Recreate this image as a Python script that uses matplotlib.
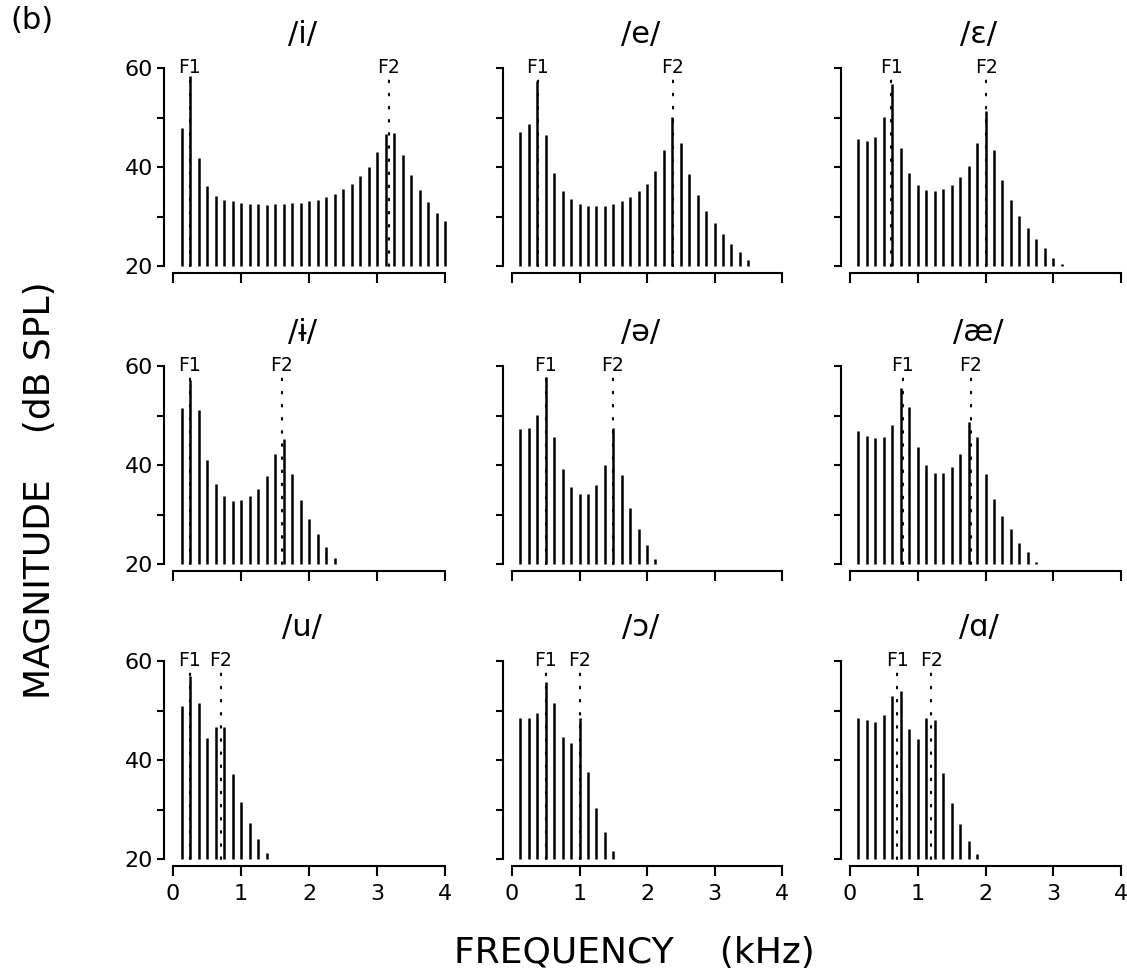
#!/usr/bin/env python3
import matplotlib
matplotlib.use('Agg')
import matplotlib.pyplot as plt

plt.rcParams['font.family'] = ['DejaVu Sans']

# spacing of the harmonics (voice fundamental), kHz
F0_KHZ = 0.125

vowels = ['/i/', '/e/', '/ɛ/', '/ɨ/', '/ə/', '/æ/', '/u/', '/ɔ/', '/ɑ/']

# level of each harmonic in dB SPL, 1st harmonic upward
lvl_i = [47.9, 58.3, 41.9, 36.1, 34.1, 33.4, 33.1, 32.7, 32.6, 32.5, 32.4,
         32.5, 32.5, 32.7, 32.8, 33.1, 33.3, 33.9, 34.6, 35.5, 36.5, 38.1,
         40.1, 43.0, 46.6, 46.9, 42.5, 38.4, 35.4, 32.9, 30.8, 29.0]
lvl_e = [47.1, 48.6, 57.3, 46.5, 38.8, 35.2, 33.5, 32.6, 32.2, 32.2, 32.2,
         32.6, 33.1, 33.9, 35.1, 36.6, 39.1, 43.4, 50.2, 44.8, 38.5, 34.3,
         31.2, 28.7, 26.5, 24.5, 22.8, 21.3]
lvl_eh = [45.7, 45.3, 46.1, 50.1, 56.8, 43.9, 38.8, 36.4, 35.4, 35.2, 35.5,
          36.4, 37.9, 40.3, 44.9, 51.4, 43.4, 37.4, 33.4, 30.2, 27.7, 25.4,
          23.7, 21.7, 20.4]
lvl_barred_i = [51.5, 57.2, 51.2, 41.1, 36.1, 33.7, 32.8, 32.9, 33.7, 35.1,
                37.7, 42.3, 45.3, 38.1, 32.9, 29.1, 26.1, 23.5, 21.2]
lvl_schwa = [47.2, 47.5, 50.1, 57.7, 45.6, 39.1, 35.5, 34.1, 34.2, 36.0,
             40.1, 47.5, 38.0, 31.4, 27.0, 23.8, 21.1]
lvl_ae = [46.9, 45.9, 45.4, 45.7, 48.1, 55.5, 51.7, 43.7, 40.0, 38.4, 38.4,
          39.5, 42.3, 48.6, 45.7, 38.1, 33.2, 29.7, 27.0, 24.3, 22.5, 20.4]
lvl_u = [51.0, 57.0, 51.5, 44.4, 46.6, 46.6, 37.1, 31.5, 27.2, 24.1, 21.2]
lvl_open_o = [48.5, 48.5, 49.5, 55.8, 51.5, 44.6, 43.5, 48.4, 37.5, 30.4,
              25.5, 21.7]
lvl_a = [48.5, 48.0, 47.7, 49.0, 53.0, 54.0, 46.3, 44.3, 48.5, 48.0, 37.3,
         31.3, 27.0, 23.7, 21.0]

levels = [lvl_i, lvl_e, lvl_eh, lvl_barred_i, lvl_schwa, lvl_ae,
          lvl_u, lvl_open_o, lvl_a]

# formant frequencies, kHz
f1_khz = [0.25, 0.38, 0.61, 0.25, 0.50, 0.78, 0.25, 0.50, 0.70]
f2_khz = [3.17, 2.38, 2.01, 1.60, 1.49, 1.78, 0.70, 1.00, 1.20]

x_ticks = [0, 1, 2, 3, 4]
y_ticks = [20, 30, 40, 50, 60]
y_ticklabels = ['20', '', '40', '', '60']


def main():
    W, H = 1127, 969
    fig = plt.figure(figsize=(W / 100, H / 100), dpi=100)

    # panel boxes in pixels (left, top of the 60 dB line)
    col_left = [173, 512, 850]
    col_width = [272, 270, 271]
    row_top = [68, 366, 661]
    row_h = 198

    for k, title in enumerate(vowels):
        r, c = divmod(k, 3)
        ax = fig.add_axes([col_left[c] / W, (H - row_top[r] - row_h) / H,
                           col_width[c] / W, row_h / H])
        ax.set_xlim(0, 4)
        ax.set_ylim(20, 60)

        lv = levels[k]
        freqs = [(n + 1) * F0_KHZ for n in range(len(lv))]
        ax.vlines(freqs, 20, lv, color='black', lw=1.8, clip_on=False)

        for f, name in [(f1_khz[k], 'F1'), (f2_khz[k], 'F2')]:
            ax.plot([f, f], [20, 57.5], color='black', lw=1.5,
                    ls=(0, (0.8, 5.5)), dash_capstyle='round', clip_on=False)
            ax.text(f, 58.9, name, ha='center', va='baseline', fontsize=13.5)

        ax.annotate(title, xy=(1.9, 60), xytext=(0, 14),
                    textcoords='offset points', ha='center', va='bottom',
                    fontsize=22, annotation_clip=False)

        for s in ['top', 'right']:
            ax.spines[s].set_visible(False)
        ax.spines['left'].set_position(('outward', 6.5))
        ax.spines['bottom'].set_position(('outward', 5))
        ax.spines['left'].set_bounds(20, 60)
        ax.spines['bottom'].set_bounds(0, 4)
        for s in ['left', 'bottom']:
            ax.spines[s].set_linewidth(1.5)

        ax.set_yticks(y_ticks)
        ax.set_xticks(x_ticks)
        if c == 0:
            ax.set_yticklabels(y_ticklabels)
        else:
            ax.set_yticklabels([])
        if r == 2:
            ax.set_xticklabels([str(t) for t in x_ticks])
        else:
            ax.set_xticklabels([])
        ax.tick_params(axis='y', direction='out', length=5, width=1.5,
                       labelsize=16, pad=3)
        ax.tick_params(axis='x', direction='out', length=7, width=1.5,
                       labelsize=16, pad=6)

    fig.text(634 / W, 1 - 953 / H, 'FREQUENCY    (kHz)', ha='center',
             va='center', fontsize=26)
    fig.text(40 / W, 1 - 490 / H, 'MAGNITUDE    (dB SPL)', rotation=90,
             ha='center', va='center', fontsize=26)
    fig.text(10 / W, 1 - 6 / H, '(b)', ha='left', va='top', fontsize=22)

    fig.savefig('out.png', dpi=100)


if __name__ == '__main__':
    main()
